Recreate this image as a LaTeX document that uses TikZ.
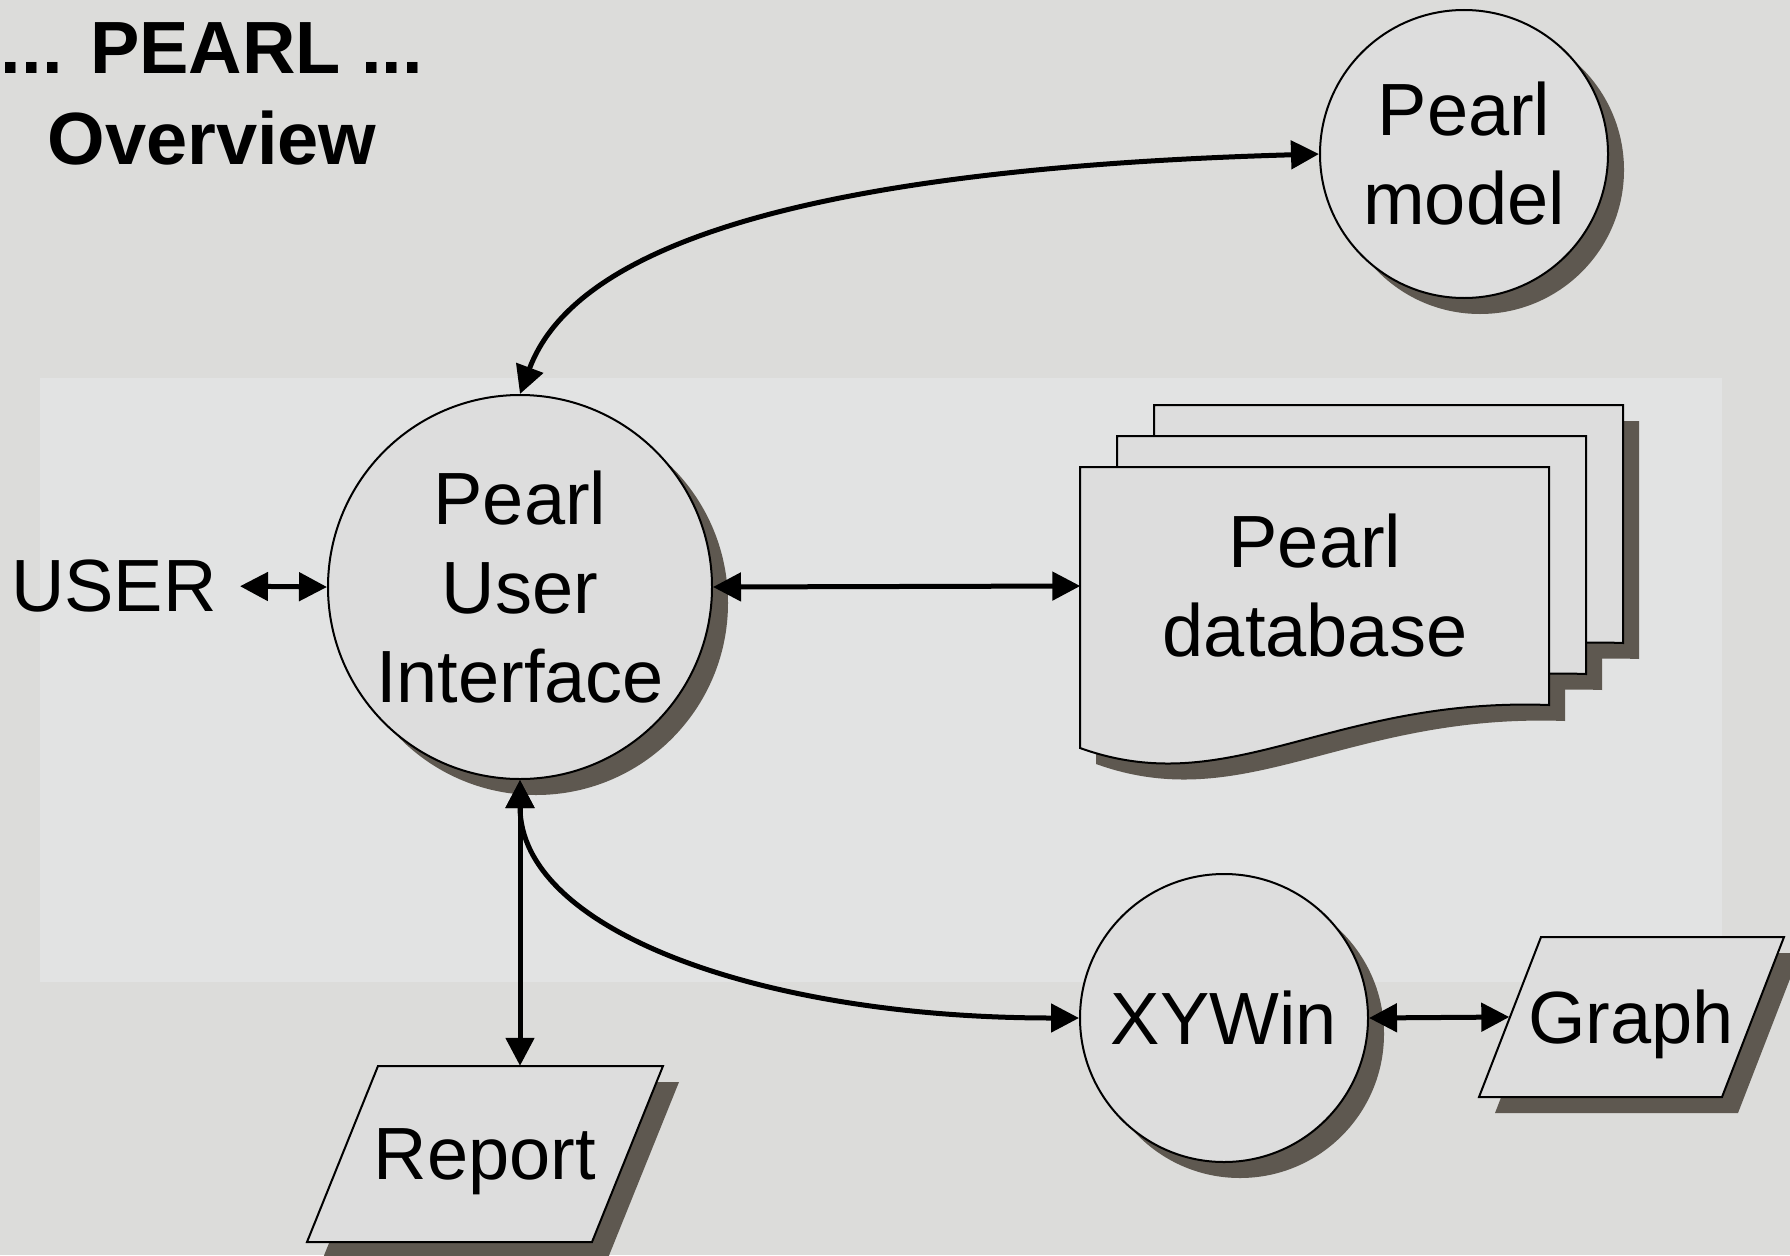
\documentclass[tikz,border=0pt]{standalone}
\usepackage{fontspec}
\setmainfont{Liberation Sans}
\usetikzlibrary{arrows.meta}
\usetikzlibrary{shadows}
\definecolor{backdrop}{RGB}{220,220,218}
\definecolor{bandgray}{RGB}{226,227,227}
\definecolor{shapefill}{RGB}{221,221,221}
\definecolor{shadowgray}{RGB}{94,88,80}
\tikzset{bubble/.style={circle,draw=black,line width=2pt,fill=shapefill,inner sep=0pt,align=center,
  font=\fontsize{74}{89}\selectfont,
  drop shadow={shadow xshift=16pt,shadow yshift=-16pt,fill=shadowgray,opacity=1}}}
\tikzset{iobox/.style={draw=black,line width=2pt,fill=shapefill,
  drop shadow={shadow xshift=16pt,shadow yshift=-16pt,fill=shadowgray,opacity=1}}}
\tikzset{plaintext/.style={inner sep=0pt,align=center,font=\fontsize{74}{89}\selectfont}}
\tikzset{sheet/.style={draw=black,line width=2pt,fill=shapefill}}
\tikzset{biarrow/.style={line width=5pt,{Triangle[length=28pt,width=28pt]}-{Triangle[length=28pt,width=28pt]}}}

\begin{document}
\begin{tikzpicture}[x=1pt,y=-1pt]
\useasboundingbox (0,0) rectangle (1790,1255);
\fill[backdrop] (0,0) rectangle (1790,1255);
\fill[bandgray] (40,378) rectangle (1722,982);

\node[plaintext,font=\bfseries\fontsize{74}{91}\selectfont] (title) at (212,94) {... PEARL ...\\Overview};

% stacked database sheets
\foreach \dx/\dy in {74/-62,37/-31,0/0}
  \fill[shadowgray,shift={(1096+\dx,483+\dy)}] (0,0) -- (469,0) -- (469,238)
    .. controls (250,230) and (150,335) .. (0,281) -- cycle;
\foreach \dx/\dy in {74/-62,37/-31,0/0}
  \draw[sheet,shift={(1080+\dx,467+\dy)}] (0,0) -- (469,0) -- (469,238)
    .. controls (250,230) and (150,335) .. (0,281) -- cycle;
\node[plaintext,minimum width=469pt,minimum height=238pt] (db) at (1315,586) {Pearl\\database};

% output parallelograms
\draw[iobox] (378,1066) -- (663,1066) -- (592,1242) -- (307,1242) -- cycle;
\draw[iobox] (1541,937) -- (1784,937) -- (1722,1097) -- (1479,1097) -- cycle;
\node[plaintext,text depth=0pt,minimum width=285pt,minimum height=176pt] (report) at (485,1154) {Report};
\node[plaintext,text depth=0pt,minimum width=243pt,minimum height=160pt] (graph) at (1631,1017) {Graph};

\node[bubble,minimum size=384pt] (pui) at (520,587) {Pearl\\User\\Interface};
\node[bubble,minimum size=288pt] (model) at (1464,154) {Pearl\\model};
\node[bubble,minimum size=288pt] (xywin) at (1224,1018) {XYWin};
\node[plaintext] (user) at (114,586) {USER};

\draw[biarrow,shorten <=23pt] (user.east) -- (pui.west);
\draw[biarrow] (pui.east) -- (db.west);
\draw[biarrow] (pui.south) -- (pui.south |- report.north);
\draw[biarrow] (pui.south) .. controls (520,930) and (760,1018) .. (xywin.west);
\draw[biarrow] (pui.north) .. controls (570,260) and (760,170) .. (model.west);
\draw[biarrow] (xywin.east) -- (graph.west);
\end{tikzpicture}
\end{document}
